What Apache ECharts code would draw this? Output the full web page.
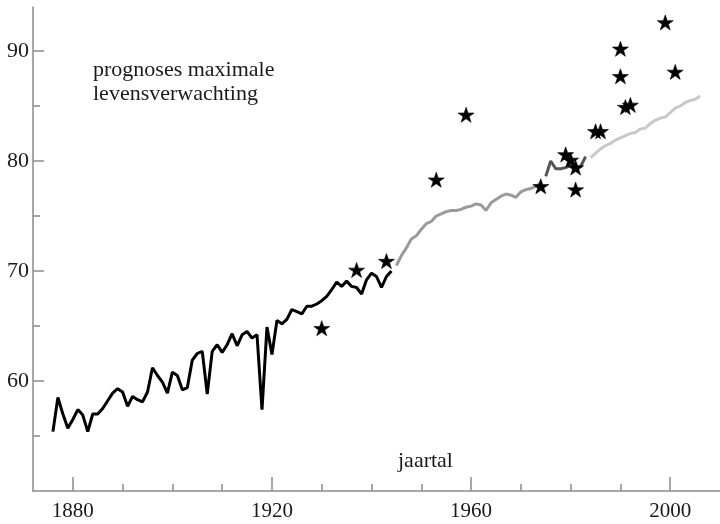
<!DOCTYPE html>
<html>
<head>
<meta charset="utf-8">
<script src="https://cdn.jsdelivr.net/npm/echarts@6/dist/echarts.min.js"></script>
<style>
  html, body { margin: 0; padding: 0; background: #fff; }
  #chart { width: 720px; height: 524px; }
</style>
</head>
<body>
<div id="chart"></div>
<script>
// Observed record life expectancy, in four periods
const yearsA = [1876,1877,1878,1879,1880,1881,1882,1883,1884,1885,1886,1887,1888,1889,1890,
  1891,1892,1893,1894,1895,1896,1897,1898,1899,1900,1901,1902,1903,1904,1905,1906,1907,1908,
  1909,1910,1911,1912,1913,1914,1915,1916,1917,1918,1919,1920,1921,1922,1923,1924,1925,1926,
  1927,1928,1929,1930,1931,1932,1933,1934,1935,1936,1937,1938,1939,1940,1941,1942,1943,1944];
const valuesA = [55.4,58.5,57.0,55.7,56.5,57.4,56.9,55.4,57.0,57.0,57.5,58.2,58.9,59.3,59.0,
  57.7,58.6,58.3,58.1,59.0,61.2,60.5,59.9,58.9,60.8,60.5,59.2,59.4,61.9,62.5,62.7,58.8,62.7,
  63.3,62.6,63.3,64.3,63.2,64.2,64.5,63.9,64.2,57.4,64.9,62.4,65.5,65.2,65.6,66.5,66.3,66.1,
  66.8,66.8,67.0,67.3,67.7,68.3,69.0,68.6,69.1,68.6,68.5,67.9,69.2,69.8,69.5,68.5,69.5,70.0];

const yearsB = [1945,1946,1947,1948,1949,1950,1951,1952,1953,1954,1955,1956,1957,1958,1959,
  1960,1961,1962,1963,1964,1965,1966,1967,1968,1969,1970,1971,1972,1973,1974];
const valuesB = [70.5,71.4,72.1,72.9,73.2,73.8,74.3,74.5,75.0,75.2,75.4,75.5,75.5,75.6,75.8,
  75.9,76.1,76.0,75.5,76.2,76.5,76.8,77.0,76.9,76.7,77.2,77.4,77.5,77.7,78.0];

const yearsC = [1975,1976,1977,1978,1979,1980,1981,1982,1983];
const valuesC = [78.6,80.0,79.3,79.3,79.4,79.6,79.4,79.5,80.4];

const yearsD = [1984,1985,1986,1987,1988,1989,1990,1991,1992,1993,1994,1995,1996,1997,1998,
  1999,2000,2001,2002,2003,2004,2005,2006];
const valuesD = [80.3,80.7,81.1,81.4,81.6,81.9,82.1,82.3,82.5,82.6,82.9,83.0,83.4,83.7,83.9,
  84.0,84.4,84.8,85.0,85.3,85.5,85.6,85.9];

// Published forecasts of maximum life expectancy
const forecastYears = [1930,1937,1943,1953,1959,1974,1979,1980,1981,1981,1985,1986,1990,1990,1991,1992,1999,2001];
const forecastValues = [64.8,70.1,70.9,78.3,84.2,77.7,80.6,80.1,79.4,77.4,82.7,82.7,90.2,87.7,84.9,85.1,92.6,88.1];

// Axis ticks
const xMajorTicks = [1880, 1920, 1960, 2000];
const xMinorTicks = [1890, 1900, 1910, 1930, 1940, 1950, 1970, 1980, 1990];
const yMajorTicks = [60, 70, 80, 90];
const yMinorTicks = [55, 65, 75, 85];

const pair = (xs, ys) => xs.map((x, i) => [x, ys[i]]);

const FONT = '"Liberation Serif", "Times New Roman", serif';
const AXIS_COLOR = '#8a8a8a';
const STAR = 'path://M50,2 L61.8,36.4 L98,36.4 L68.7,57.6 L79.9,92 L50,70.8 L20.1,92 L31.3,57.6 L2,36.4 L38.2,36.4 Z';

const chart = echarts.init(document.getElementById('chart'), null, { renderer: 'canvas' });

const xBase = { type: 'value', position: 'bottom', min: 1872, max: 2010, splitLine: { show: false } };
const yBase = { type: 'value', position: 'left', min: 50, max: 94, splitLine: { show: false } };
const plain = v => String(v);

chart.setOption({
  animation: false,
  backgroundColor: '#ffffff',
  grid: { left: 33, top: 7, width: 690, height: 484 },
  xAxis: [
    Object.assign({}, xBase, {
      axisLine: { show: true, lineStyle: { color: AXIS_COLOR, width: 1.5 } },
      axisTick: { show: true, inside: true, length: 14, customValues: xMajorTicks,
        lineStyle: { color: AXIS_COLOR, width: 1.5 } },
      axisLabel: { show: true, customValues: xMajorTicks, margin: 10, formatter: plain,
        color: '#1a1a1a', fontFamily: FONT, fontSize: 21 }
    }),
    Object.assign({}, xBase, {
      axisLine: { show: false },
      axisTick: { show: true, inside: true, length: 7, customValues: xMinorTicks,
        lineStyle: { color: AXIS_COLOR, width: 1.5 } },
      axisLabel: { show: false }
    })
  ],
  yAxis: [
    Object.assign({}, yBase, {
      axisLine: { show: true, lineStyle: { color: AXIS_COLOR, width: 1.5 } },
      axisTick: { show: true, inside: true, length: 11, customValues: yMajorTicks,
        lineStyle: { color: AXIS_COLOR, width: 1.5 } },
      axisLabel: { show: true, customValues: yMajorTicks, margin: 4, formatter: plain,
        color: '#1a1a1a', fontFamily: FONT, fontSize: 22 }
    }),
    Object.assign({}, yBase, {
      axisLine: { show: false },
      axisTick: { show: true, inside: true, length: 7, customValues: yMinorTicks,
        lineStyle: { color: AXIS_COLOR, width: 1.5 } },
      axisLabel: { show: false }
    })
  ],
  graphic: [
    { type: 'text', left: 93, top: 59,
      style: { text: 'prognoses maximale', font: '22px ' + FONT, fill: '#1a1a1a' } },
    { type: 'text', left: 93, top: 83,
      style: { text: 'levensverwachting', font: '22px ' + FONT, fill: '#1a1a1a' } },
    { type: 'text', left: 398, top: 450,
      style: { text: 'jaartal', font: '22px ' + FONT, fill: '#1a1a1a' } }
  ],
  series: [
    { type: 'line', data: pair(yearsA, valuesA), showSymbol: false,
      lineStyle: { color: '#000', width: 3 }, itemStyle: { color: '#000' } },
    { type: 'line', data: pair(yearsB, valuesB), showSymbol: false,
      lineStyle: { color: '#9a9a9a', width: 3 }, itemStyle: { color: '#9a9a9a' } },
    { type: 'line', data: pair(yearsC, valuesC), showSymbol: false,
      lineStyle: { color: '#555', width: 3 }, itemStyle: { color: '#555' } },
    { type: 'line', data: pair(yearsD, valuesD), showSymbol: false,
      lineStyle: { color: '#c8c8c8', width: 3 }, itemStyle: { color: '#c8c8c8' } },
    { type: 'scatter', data: pair(forecastYears, forecastValues), symbol: STAR,
      symbolSize: 16, symbolKeepAspect: true,
      itemStyle: { color: '#000', opacity: 1, borderColor: '#000', borderWidth: 0.6 }, z: 5 }
  ]
});
</script>
</body>
</html>
